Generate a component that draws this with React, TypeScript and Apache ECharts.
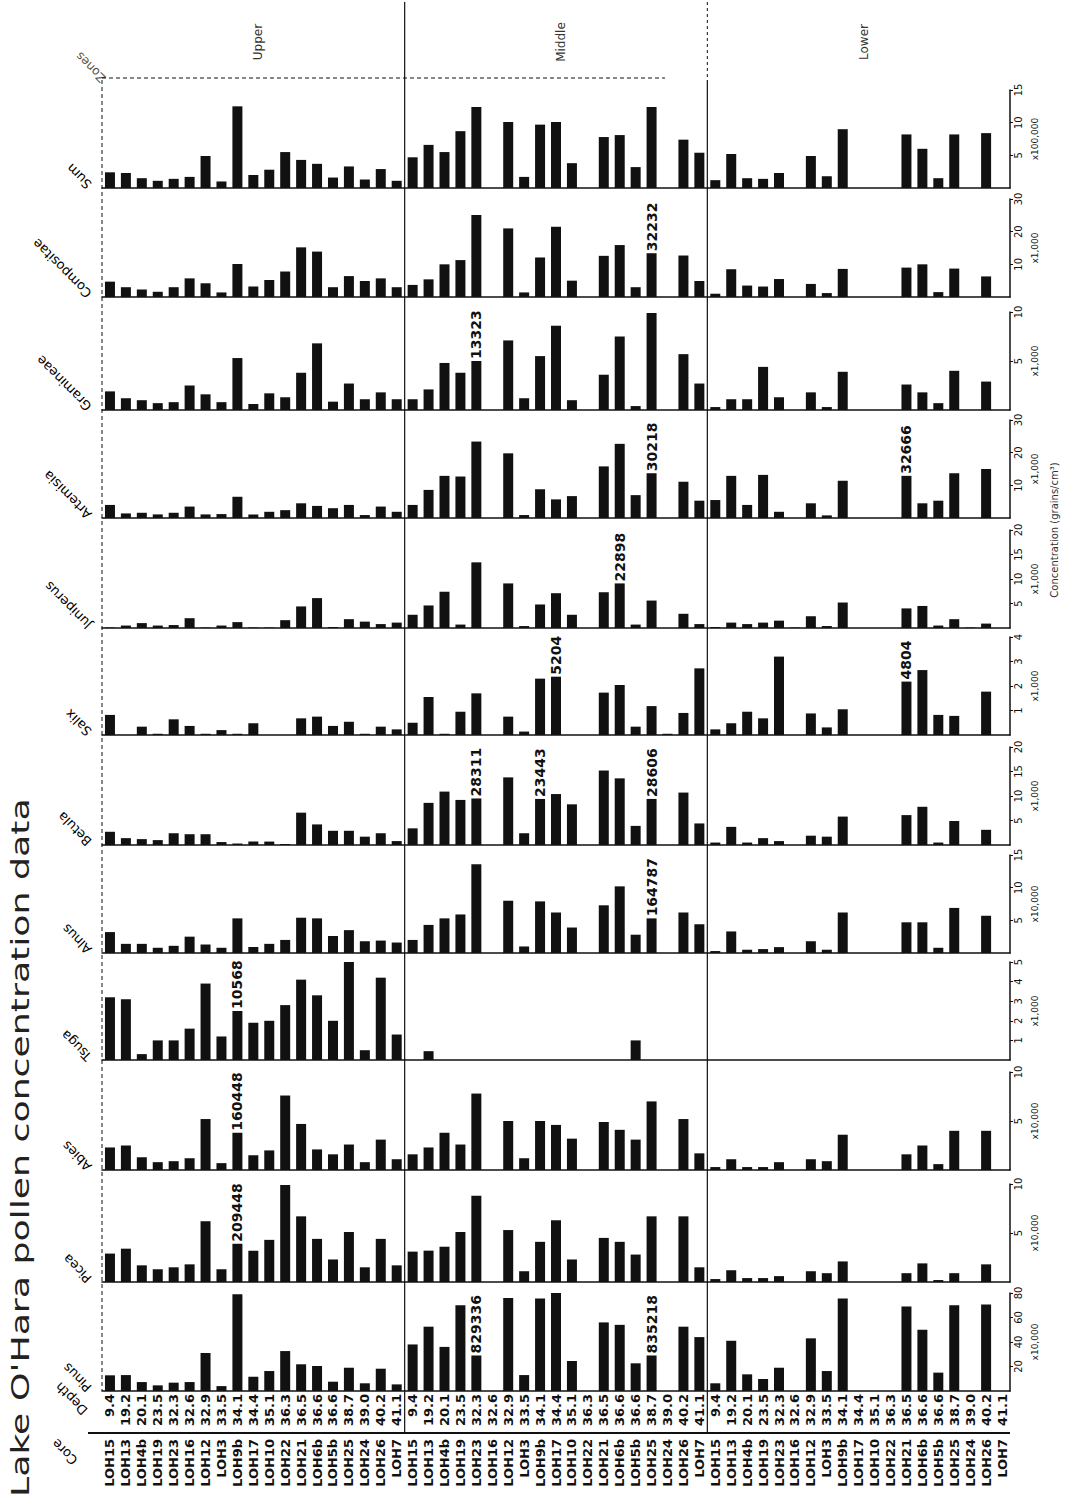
import React, { useEffect, useRef } from "react";
import * as echarts from "echarts";

// ---------- categories ----------
const zones = ["Upper", "Middle", "Lower"];
const cores = ["LOH15","LOH13","LOH4b","LOH19","LOH23","LOH16","LOH12","LOH3","LOH9b","LOH17","LOH10","LOH22","LOH21","LOH6b","LOH5b","LOH25","LOH24","LOH26","LOH7"];
const depths = ["9.4","19.2","20.1","23.5","32.3","32.6","32.9","33.5","34.1","34.4","35.1","36.3","36.5","36.6","36.6","38.7","39.0","40.2","41.1"];

// ---------- series values (Upper 19, Middle 19, Lower 19) ----------
const pinus = [12.8,13,7.3,4.6,6.8,7.3,31,4,79,11.7,16.3,32.6,21.8,20.4,7.6,19,6.3,18.2,5.4,
  38,52.5,36,70,29,0,76,13,75.6,80,24.5,0,56,54,22.6,29,0,52.5,44,
  6.3,41,13.6,9.8,19,0,43,16.3,75.6,0,0,0,69,50,15,70,0,70.7,0];
const picea = [2.9,3.4,1.7,1.3,1.5,1.8,6.2,1.3,3.9,3.2,4.3,9.9,6.7,4.4,2.3,5.1,1.5,4.4,1.7,
  3.1,3.2,3.6,5.1,8.8,0,5.3,1.1,4.1,6.3,2.3,0,4.5,4.1,2.8,6.7,0,6.7,1.5,
  0.3,1.2,0.4,0.4,0.6,0,1.1,0.9,2.1,0,0,0,0.9,1.9,0.2,0.9,0,1.8,0];
const abies = [2.3,2.5,1.3,0.8,0.9,1.2,5.2,0.7,3.8,1.5,2.0,7.6,4.7,2.1,1.6,2.6,0.8,3.1,1.1,
  1.6,2.3,3.8,2.6,7.8,0,5.0,1.2,5.0,4.6,3.2,0,4.9,4.1,3.1,7.0,0,5.2,1.7,
  0.3,1.1,0.3,0.3,0.8,0,1.1,0.9,3.6,0,0,0,1.6,2.5,0.6,4.0,0,4.0,0];
const tsuga = [3.2,3.1,0.3,1.0,1.0,1.6,3.9,1.2,2.5,1.9,2.0,2.8,4.1,3.3,2.0,5.0,0.5,4.2,1.3,
  0,0.45,0,0,0,0,0,0,0,0,0,0,0,0,1.0,0,0,0,0,0,
  0,0,0,0,0,0,0,0,0,0,0,0,0,0,0,0,0,0,0];
const alnus = [3.2,1.4,1.4,0.8,1.1,2.5,1.3,0.8,5.3,0.9,1.4,2.0,5.4,5.3,2.6,3.5,1.8,1.9,1.6,
  2.0,4.3,5.3,5.9,13.6,0,8.0,1.0,7.9,6.2,3.9,0,7.3,10.2,2.8,5.3,0,6.2,4.4,
  0.3,3.3,0.5,0.6,0.9,0,1.8,0.5,6.2,0,0,0,4.7,4.7,0.8,6.9,0,5.7,0];
const betula = [2.7,1.4,1.2,1.0,2.4,2.2,2.2,0.6,0.3,0.7,0.7,0.2,6.6,4.2,2.9,2.9,1.7,2.4,0.8,
  3.4,8.6,10.9,9.2,9.5,0,13.8,2.4,9.4,10.4,8.3,0,15.2,13.6,3.9,9.4,0,10.7,4.4,
  0.5,3.7,0.5,1.4,0.8,0,1.9,1.7,5.8,0,0,0,6.1,7.8,0.5,4.9,0,3.1,0];
const salix = [0.82,0,0.34,0.05,0.64,0.37,0.05,0.2,0.05,0.48,0,0,0.68,0.75,0.37,0.54,0.05,0.34,0.23,
  0.5,1.55,0.05,0.95,1.7,0,0.75,0.14,2.3,2.38,0,0,1.73,2.04,0.34,1.18,0.05,0.9,2.72,
  0.23,0.48,0.95,0.68,3.2,0,0.88,0.31,1.05,0,0,0,2.18,2.65,0.82,0.78,0,1.77,0];
const juniperus = [0.1,0.5,1.0,0.5,0.6,2.0,0.1,0.5,1.2,0.1,0.1,1.6,4.4,6.1,0.2,1.8,1.3,0.8,1.1,
  2.7,4.6,7.4,0.7,13.4,0,9.1,0.4,4.8,7.1,2.7,0,7.3,9.1,0.7,5.6,0,2.9,0.8,
  0.2,1.1,0.8,1.1,1.5,0.1,2.4,0.4,5.2,0,0,0,4.0,4.5,0.5,1.8,0.1,0.9,0];
const artemisia = [4.0,1.4,1.6,1.1,1.6,3.5,1.1,1.2,6.5,1.1,1.9,2.4,4.5,3.7,3.0,4.0,0.9,3.5,1.9,
  4.0,8.6,12.9,12.7,23.4,0,19.8,0.9,8.8,5.7,6.7,0,15.8,22.7,7.0,13.7,0,11.1,5.3,
  5.5,12.9,4.0,13.2,1.9,0,4.5,0.8,11.4,0,0,0,12.9,4.5,5.3,13.7,0,15.0,0];
const gramineae = [1.9,1.2,1.0,0.7,0.8,2.5,1.6,0.8,5.3,0.6,1.7,1.3,3.8,6.8,0.85,2.7,1.1,1.8,1.1,
  1.1,2.1,4.8,3.8,5.0,0,7.1,1.2,5.5,8.6,1.0,0,3.6,7.5,0.4,9.9,0,5.7,2.7,
  0.3,1.1,1.1,4.4,1.3,0,1.8,0.3,3.9,0,0,0,2.6,1.8,0.7,4.0,0,2.9,0];
const compositae = [4.7,3.0,2.3,1.6,3.0,5.7,4.2,1.4,10.1,3.2,5.2,7.8,15.2,13.9,3.0,6.4,4.9,5.7,3.0,
  3.7,5.4,10.0,11.3,25.1,0,21.0,1.4,12.1,21.5,5.0,0,12.6,15.9,3.0,13.4,0,12.7,4.9,
  1.0,8.5,3.5,3.2,5.5,0,4.0,1.2,8.6,0,0,0,9.0,10.0,1.5,8.7,0,6.3,0];
const total = [2.4,2.3,1.5,1.1,1.4,1.7,4.9,1.0,12.5,2.0,2.8,5.5,4.3,3.7,1.6,3.3,1.3,2.9,1.1,
  4.7,6.6,5.5,8.7,12.4,0,10.1,1.7,9.7,10.1,3.8,0,7.8,8.1,3.2,12.4,0,7.4,5.4,
  1.2,5.2,1.5,1.4,2.3,0,4.9,1.8,9.0,0,0,0,8.2,6.0,1.5,8.2,0,8.4,0];

// ---------- taxa & value axes (bottom strip first) ----------
const taxa = ["Pinus","Picea","Abies","Tsuga","Alnus","Betula","Salix","Juniperus","Artemisia","Gramineae","Compositae","Sum"];
const taxonValues = [pinus, picea, abies, tsuga, alnus, betula, salix, juniperus, artemisia, gramineae, compositae, total];
const axisMax = [80,10,10,5,15,20,4,20,30,10,30,15];
const axisStep = [20,5,5,1,5,5,1,5,10,5,10,5];
const axisUnit = ["x10,000","x10,000","x10,000","x1,000","x10,000","x1,000","x1,000","x1,000","x1,000","x1,000","x1,000","x100,000"];

// off-scale values written on the bars
const annotTaxon = [0,0,1,2,3,4,5,5,5,6,6,7,8,8,9,10];
const annotIndex = [23,34,8,8,8,34,23,27,34,28,50,32,34,50,23,34];
const annotText = ["829336","835218","209448","160448","10568","164787","28311","23443","28606","5204","4804","22898","30218","32666","13323","32232"];

const titleText = "Lake O'Hara pollen concentration data";

export default function App() {
  const ref = useRef<HTMLDivElement>(null);
  useEffect(() => {
    if (!ref.current) return;
    const chart = echarts.init(ref.current, null, { renderer: "svg" });
    const FONT = "DejaVu Sans";
    const INK = "#111";
    const PLOT_LEFT = 102;
    const PLOT_W = 908;
    const STRIP_H = 98;
    const baselines = [1391, 1282, 1170, 1060, 953, 845, 735, 628, 518, 410, 297, 188];
    const catIds = zones.flatMap((z) => cores.map((c) => z + "-" + c));
    const n = cores.length;
    const catW = PLOT_W / catIds.length;
    const sep1 = PLOT_LEFT + n * catW;
    const sep2 = PLOT_LEFT + 2 * n * catW;

    const grid = baselines.map((b) => ({ left: PLOT_LEFT, width: PLOT_W, top: b - STRIP_H, height: STRIP_H }));

    const xAxis: any[] = baselines.map((b, i) => ({
      type: "category",
      gridIndex: i,
      data: catIds,
      axisLine: { show: true, lineStyle: { color: INK, width: 1.5 } },
      axisTick: { show: false },
      splitLine: { show: false },
      axisLabel: i === 0
        ? { show: true, interval: 0, rotate: 90, margin: 3, fontSize: 13, fontWeight: "bold", fontFamily: FONT, color: INK,
            formatter: (_v: string, idx: number) => depths[idx % n] }
        : { show: false },
    }));
    xAxis.push({
      type: "category",
      gridIndex: 0,
      data: catIds,
      position: "bottom",
      offset: 44,
      axisLine: { show: false },
      axisTick: { show: false },
      axisLabel: { show: true, interval: 0, rotate: 90, margin: 4, fontSize: 13, fontWeight: "bold", fontFamily: FONT, color: INK,
        formatter: (_v: string, idx: number) => cores[idx % n] },
    });

    const yAxis = baselines.map((b, i) => ({
      type: "value",
      gridIndex: i,
      position: "right",
      min: 0,
      max: axisMax[i],
      interval: axisStep[i],
      splitLine: { show: false },
      axisLine: { show: true, lineStyle: { color: INK, width: 1.5 } },
      axisTick: { show: true, length: 3, lineStyle: { color: INK } },
      axisLabel: { showMinLabel: false, rotate: 90, margin: 3, fontSize: 10, fontFamily: FONT, color: INK, align: "center", verticalAlign: "top" },
      name: axisUnit[i],
      nameLocation: "middle",
      nameGap: 16,
      nameRotate: 90,
      nameTextStyle: { fontSize: 9, fontFamily: FONT, color: INK, align: "center", verticalAlign: "top" },
    }));

    const series = taxonValues.map((arr, i) => ({
      type: "bar",
      xAxisIndex: i,
      yAxisIndex: i,
      barWidth: 10,
      itemStyle: { color: INK },
      label: { show: false },
      data: arr.map((v, idx) => {
        const k = annotTaxon.findIndex((t, j) => t === i && annotIndex[j] === idx);
        if (k < 0) return v;
        return {
          value: v,
          label: { show: true, position: "top", rotate: 90, align: "left", verticalAlign: "middle", distance: 2,
            formatter: annotText[k], fontSize: 14, fontWeight: "bold", fontFamily: FONT, color: INK },
        };
      }),
    }));

    const graphic: any[] = [];
    // title
    graphic.push({ type: "text", x: 20, y: 1497, rotation: Math.PI / 2, scaleX: 1.45,
      style: { text: titleText, fontSize: 25, fontFamily: FONT, fill: "#222", align: "left", verticalAlign: "middle" } });
    // taxa labels (diagonal)
    taxa.forEach((t, i) => {
      graphic.push({ type: "text", x: 94, y: baselines[i] - 6, rotation: (3 * Math.PI) / 4,
        style: { text: t, fontSize: 13, fontFamily: FONT, fill: "#000", align: "left", verticalAlign: "bottom" } });
    });
    graphic.push({ type: "text", x: 90, y: 1408, rotation: (3 * Math.PI) / 4,
      style: { text: "Depth", fontSize: 13, fontFamily: FONT, fill: "#000", align: "left", verticalAlign: "bottom" } });
    graphic.push({ type: "text", x: 80, y: 1458, rotation: (3 * Math.PI) / 4,
      style: { text: "Core", fontSize: 13, fontFamily: FONT, fill: "#000", align: "left", verticalAlign: "bottom" } });
    graphic.push({ type: "text", x: 108, y: 76, rotation: (3 * Math.PI) / 4,
      style: { text: "Zones", fontSize: 12, fontFamily: FONT, fill: "#555", align: "left", verticalAlign: "bottom" } });
    // zone labels
    zones.forEach((z, k) => {
      graphic.push({ type: "text", x: PLOT_LEFT + (k + 0.5) * n * catW + 5, y: 42, rotation: Math.PI / 2,
        style: { text: z, fontSize: 12, fontFamily: FONT, fill: "#333", align: "center", verticalAlign: "middle" } });
    });
    // separators
    graphic.push({ type: "line", shape: { x1: sep1, y1: 2, x2: sep1, y2: 1432 }, style: { stroke: INK, lineWidth: 1.2 } });
    graphic.push({ type: "line", shape: { x1: sep2, y1: 2, x2: sep2, y2: 80 }, style: { stroke: INK, lineWidth: 1, lineDash: [3, 3] } });
    graphic.push({ type: "line", shape: { x1: sep2, y1: 80, x2: sep2, y2: 1432 }, style: { stroke: INK, lineWidth: 1.2 } });
    graphic.push({ type: "line", shape: { x1: PLOT_LEFT, y1: 80, x2: PLOT_LEFT, y2: baselines[0] }, style: { stroke: INK, lineWidth: 1, lineDash: [4, 3] } });
    graphic.push({ type: "line", shape: { x1: PLOT_LEFT, y1: 78, x2: 665, y2: 78 }, style: { stroke: INK, lineWidth: 1, lineDash: [4, 3] } });
    graphic.push({ type: "line", shape: { x1: 88, y1: 1433, x2: PLOT_LEFT + PLOT_W, y2: 1433 }, style: { stroke: INK, lineWidth: 2 } });
    // concentration caption
    graphic.push({ type: "text", x: 1054, y: 530, rotation: Math.PI / 2,
      style: { text: "Concentration (grains/cm³)", fontSize: 10, fontFamily: FONT, fill: "#333", align: "center", verticalAlign: "middle" } });

    chart.setOption({
      animation: false,
      backgroundColor: "#fff",
      grid,
      xAxis,
      yAxis,
      series,
      graphic,
    });
    return () => chart.dispose();
  }, []);
  return <div ref={ref} style={{ position: "absolute", left: 0, top: 0, width: 1078, height: 1500 }} />;
}
